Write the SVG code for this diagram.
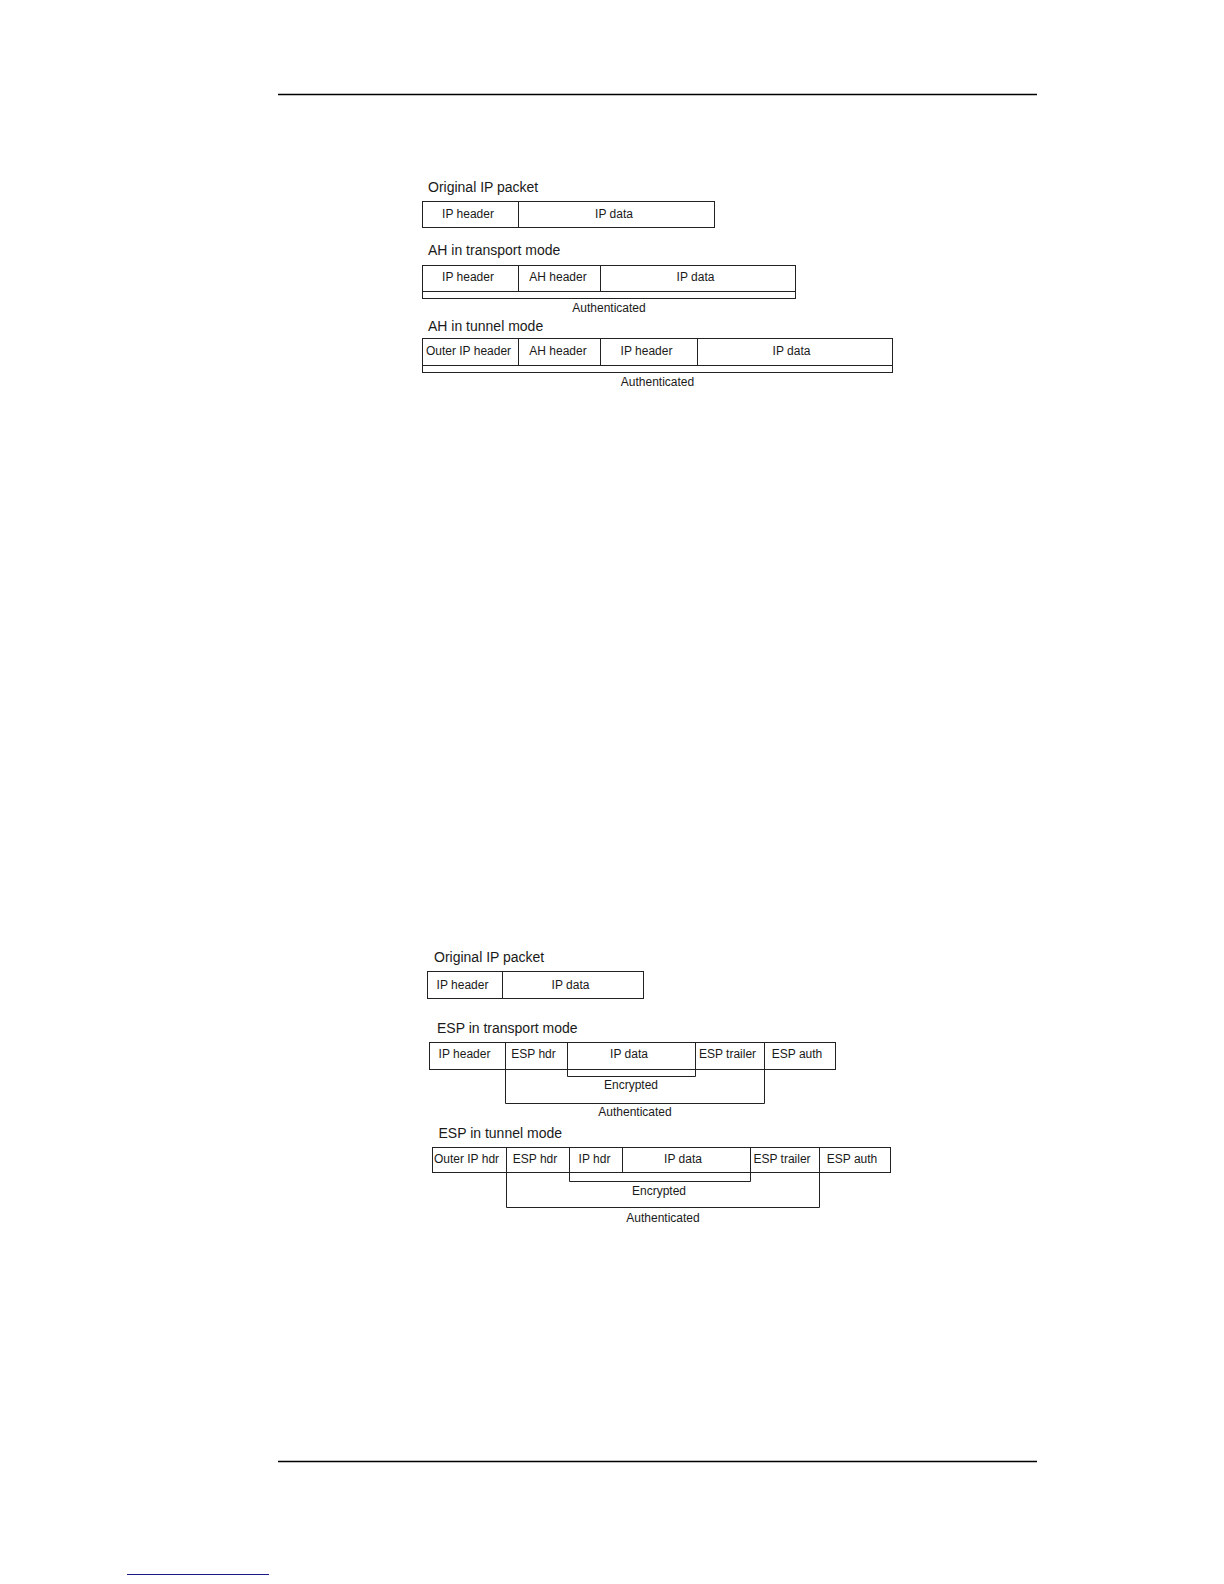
<svg xmlns="http://www.w3.org/2000/svg" width="1224" height="1584" viewBox="0 0 1224 1584">
<style>
.box{fill:none;stroke:#222;stroke-width:1}
.ln{fill:none;stroke:#222;stroke-width:1}
.lbl{font-family:"Liberation Sans",Arial,sans-serif;font-size:14px;fill:#1a1a1a}
.cell{font-family:"Liberation Sans",Arial,sans-serif;font-size:12px;fill:#1a1a1a;text-anchor:middle}
.rule{stroke:#000;stroke-width:1.3}
</style>
<rect width="1224" height="1584" fill="#fff"/>
<line class="rule" x1="278" y1="94.5" x2="1037" y2="94.5"/>
<line class="rule" x1="278" y1="1461.5" x2="1037" y2="1461.5"/>
<line x1="127" y1="1574.5" x2="269" y2="1574.5" stroke="#1a1a8c" stroke-width="1.2"/>

<g id="ah-original">
<text class="lbl" x="428" y="191.5">Original IP packet</text>
<rect class="box" x="422.5" y="201.5" width="292" height="26"/>
<line class="ln" x1="518.5" y1="201.5" x2="518.5" y2="227.5"/>
<text class="cell" x="468" y="218">IP header</text>
<text class="cell" x="614" y="218">IP data</text>
</g>

<g id="ah-transport">
<text class="lbl" x="428" y="255">AH in transport mode</text>
<rect class="box" x="422.5" y="265.5" width="373" height="33"/>
<line class="ln" x1="422.5" y1="291.5" x2="795.5" y2="291.5"/>
<line class="ln" x1="518.5" y1="265.5" x2="518.5" y2="291.5"/>
<line class="ln" x1="600.5" y1="265.5" x2="600.5" y2="291.5"/>
<text class="cell" x="468" y="281">IP header</text>
<text class="cell" x="558" y="281">AH header</text>
<text class="cell" x="695.5" y="281">IP data</text>
<text class="cell" x="609" y="312">Authenticated</text>
</g>

<g id="ah-tunnel">
<text class="lbl" x="428" y="331">AH in tunnel mode</text>
<rect class="box" x="422.5" y="338.5" width="470" height="34"/>
<line class="ln" x1="422.5" y1="365.5" x2="892.5" y2="365.5"/>
<line class="ln" x1="518.5" y1="338.5" x2="518.5" y2="365.5"/>
<line class="ln" x1="600.5" y1="338.5" x2="600.5" y2="365.5"/>
<line class="ln" x1="697.5" y1="338.5" x2="697.5" y2="365.5"/>
<text class="cell" x="468.5" y="355">Outer IP header</text>
<text class="cell" x="558" y="355">AH header</text>
<text class="cell" x="646.5" y="355">IP header</text>
<text class="cell" x="791.5" y="355">IP data</text>
<text class="cell" x="657.5" y="386">Authenticated</text>
</g>

<g id="esp-original">
<text class="lbl" x="434" y="961.5">Original IP packet</text>
<rect class="box" x="427.5" y="971.5" width="216" height="27"/>
<line class="ln" x1="502.5" y1="971.5" x2="502.5" y2="998.5"/>
<text class="cell" x="462.5" y="988.5">IP header</text>
<text class="cell" x="570.5" y="988.5">IP data</text>
</g>

<g id="esp-transport">
<text class="lbl" x="437" y="1032.5">ESP in transport mode</text>
<rect class="box" x="429.5" y="1042.5" width="406" height="27"/>
<line class="ln" x1="505.5" y1="1042.5" x2="505.5" y2="1069.5"/>
<line class="ln" x1="567.5" y1="1042.5" x2="567.5" y2="1069.5"/>
<line class="ln" x1="695.5" y1="1042.5" x2="695.5" y2="1069.5"/>
<line class="ln" x1="764.5" y1="1042.5" x2="764.5" y2="1069.5"/>
<text class="cell" x="464.5" y="1058">IP header</text>
<text class="cell" x="533.5" y="1058">ESP hdr</text>
<text class="cell" x="629" y="1058">IP data</text>
<text class="cell" x="727.5" y="1058">ESP trailer</text>
<text class="cell" x="797" y="1058">ESP auth</text>
</g>

<g id="esp-tunnel">
<text class="lbl" x="438.5" y="1137.5">ESP in tunnel mode</text>
<rect class="box" x="432.5" y="1147.5" width="458" height="25"/>
<line class="ln" x1="506.5" y1="1147.5" x2="506.5" y2="1172.5"/>
<line class="ln" x1="569.5" y1="1147.5" x2="569.5" y2="1172.5"/>
<line class="ln" x1="622.5" y1="1147.5" x2="622.5" y2="1172.5"/>
<line class="ln" x1="750.5" y1="1147.5" x2="750.5" y2="1172.5"/>
<line class="ln" x1="819.5" y1="1147.5" x2="819.5" y2="1172.5"/>
<text class="cell" x="466.5" y="1163">Outer IP hdr</text>
<text class="cell" x="535" y="1163">ESP hdr</text>
<text class="cell" x="594.5" y="1163">IP hdr</text>
<text class="cell" x="683" y="1163">IP data</text>
<text class="cell" x="782" y="1163">ESP trailer</text>
<text class="cell" x="852" y="1163">ESP auth</text>
</g>

<g id="connectors">
<path class="ln" d="M567.5 1069.5 V1076.5 H695.5 V1069.5"/>
<text class="cell" x="631" y="1089">Encrypted</text>
<path class="ln" d="M505.5 1069.5 V1103.5 H764.5 V1069.5"/>
<text class="cell" x="635" y="1116">Authenticated</text>
<path class="ln" d="M569.5 1172.5 V1181.5 H750.5 V1172.5"/>
<text class="cell" x="659" y="1195">Encrypted</text>
<path class="ln" d="M506.5 1172.5 V1207.5 H819.5 V1172.5"/>
<text class="cell" x="663" y="1222">Authenticated</text>
</g>
</svg>
